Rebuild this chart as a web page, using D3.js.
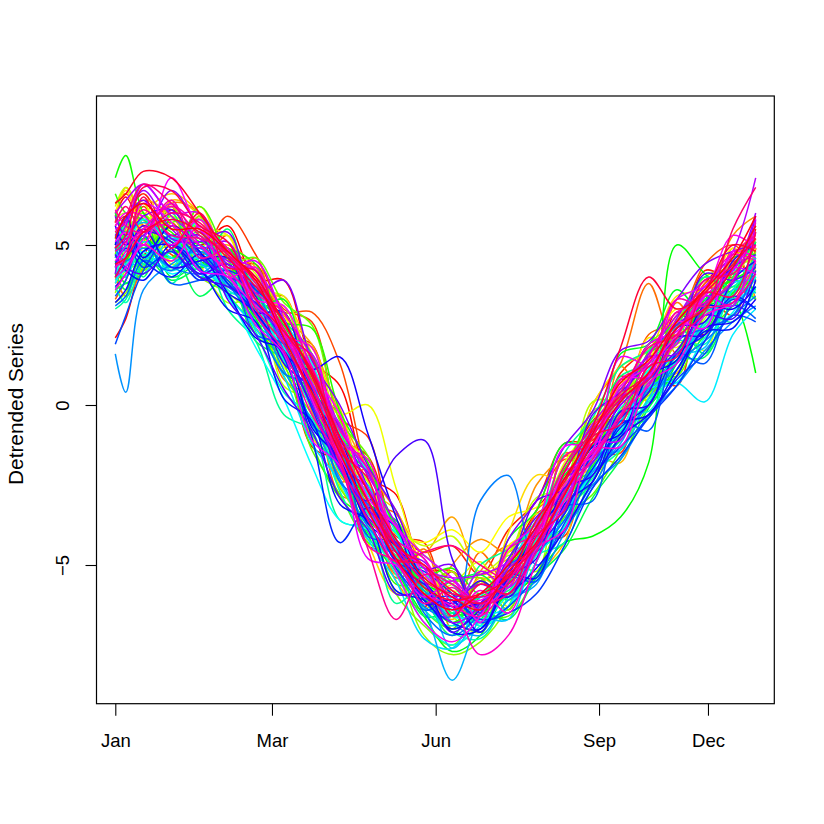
<!DOCTYPE html>
<html>
<head>
<meta charset="utf-8">
<script src="https://cdn.jsdelivr.net/npm/d3@7"></script>
<style>
  body { margin: 0; background: #fff; }
  text { font-family: "Liberation Sans", Arial, Helvetica, sans-serif; }
</style>
</head>
<body>
<div id="c_plot"></div>
<script>
// knot days (0 = 1 Jan) shared by every series
var knotDays = [0, 6, 16, 32, 48, 64, 80, 96, 112, 128, 144, 160, 176, 192, 208, 224, 240, 256, 272, 288, 304, 320, 336, 352, 365];

var tickDays = [0, 89.3, 182.6, 275.7, 337.8];
var tickLabels = ["Jan", "Mar", "Jun", "Sep", "Dec"];
var yTicks = [-5, 0, 5];

// detrended series, one row per station
var series = [
  [2.1, 2.7, 4.6, 6.1, 5.0, 5.6, 3.9, 3.9, 1.4, 0.6, -2.2, -2.8, -5.1, -5.2, -6.5, -4.9, -3.3, -2.1, -0.5, 0.2, 1.9, 2.2, 3.8, 4.5, 3.9],
  [5.9, 6.5, 5.6, 6.2, 4.3, 4.6, 2.4, 1.6, -1.3, -1.8, -4.4, -4.6, -6.3, -5.2, -6.6, -4.6, -4.3, -1.6, -1.9, 0.9, 0.4, 2.9, 2.2, 4.8, 4.4],
  [4.9, 5.8, 6.6, 5.3, 5.8, 4.2, 4.4, 2.2, 1.9, -1.0, -1.6, -3.9, -4.6, -4.4, -5.3, -3.9, -3.0, -1.2, -1.1, 1.0, 1.7, 2.1, 4.2, 4.0, 5.5],
  [3.8, 4.4, 6.2, 4.7, 4.6, 5.9, 4.7, 3.0, 2.6, -0.4, -1.0, -4.1, -4.3, -6.5, -5.5, -6.4, -4.2, -4.1, -1.5, -1.5, 1.2, 0.6, 3.4, 2.8, 4.9],
  [5.6, 5.9, 5.0, 5.6, 5.2, 4.9, 4.2, 2.9, 2.9, 1.3, -2.3, -4.5, -5.6, -5.2, -6.3, -5.5, -3.3, -1.7, -1.9, 0.8, 0.3, 2.4, 3.7, 3.3, 4.9],
  [3.3, 3.9, 5.1, 5.7, 4.4, 5.3, 3.3, 3.4, 0.8, -0.4, -3.1, -3.4, -6.0, -6.6, -5.5, -5.2, -3.4, -3.0, -0.9, -0.2, 2.2, 2.6, 4.4, 5.0, 4.3],
  [6.3, 6.6, 5.6, 4.6, 5.9, 3.6, 3.2, 0.8, 0.2, -2.8, -3.1, -5.4, -5.0, -6.6, -4.6, -5.7, -3.3, -2.6, 0.0, 1.3, 3.8, 1.6, 3.8, 4.1, 5.2],
  [4.0, 3.4, 4.3, 6.3, 6.0, 3.7, 4.6, 1.5, 1.5, -2.4, -2.0, -5.3, -4.5, -7.0, -5.2, -4.4, -4.7, -1.5, -1.9, 1.2, 0.1, 3.2, 2.1, 4.9, 3.3],
  [5.7, 6.8, 5.8, 5.1, 4.8, 4.3, 3.0, 2.0, -0.2, -2.2, -3.1, -5.5, -6.4, -5.0, -4.2, -4.6, -2.5, -1.6, -1.2, 0.4, 0.6, 2.0, 3.1, 5.3, 5.9],
  [4.6, 5.5, 6.4, 5.9, 4.8, 5.0, 4.3, 2.8, 1.9, -0.3, -2.0, -3.3, -4.6, -3.5, -5.3, -4.8, -4.4, -2.3, -1.2, 0.2, 0.6, 2.8, 3.1, 4.3, 3.8],
  [5.2, 5.0, 4.3, 6.4, 5.9, 3.9, 3.9, 2.9, 0.2, -0.6, -3.7, -4.0, -5.7, -6.7, -5.4, -5.9, -5.3, -4.3, -1.6, -1.8, 0.8, 1.0, 3.5, 4.5, 5.6],
  [4.2, 4.5, 5.9, 6.6, 6.0, 4.5, 3.6, 3.3, 1.6, -0.1, -2.6, -3.3, -5.3, -5.9, -6.9, -5.1, -4.3, -2.5, -1.9, 0.7, 0.7, 2.7, 3.3, 3.6, 4.6],
  [3.9, 4.3, 5.7, 4.5, 6.2, 4.2, 2.8, 1.6, -1.0, -1.9, -4.3, -5.9, -5.4, -5.8, -6.4, -4.0, -2.2, -2.3, 0.0, 1.2, 1.7, 3.4, 3.6, 4.4, 5.2],
  [6.0, 6.7, 5.3, 4.3, 5.4, 5.3, 2.8, 2.7, 1.4, -1.8, -2.4, -4.6, -6.1, -5.5, -6.3, -4.4, -3.9, -2.9, -0.4, -0.3, 2.1, 1.8, 3.0, 4.9, 4.2],
  [5.3, 5.0, 4.8, 4.5, 5.0, 3.9, 3.6, 1.2, 0.3, -1.6, -3.6, -4.0, -4.3, -3.9, -4.6, -3.5, -3.2, -2.4, -0.7, 0.5, 1.4, 3.0, 2.4, 4.0, 4.9],
  [5.0, 5.6, 5.1, 5.9, 5.3, 4.9, 2.8, 2.2, 1.0, -0.3, 0.0, -2.6, -5.1, -5.8, -5.6, -4.6, -3.7, -1.8, -0.6, 0.6, 1.5, 2.1, 3.6, 4.1, 5.1],
  [4.4, 4.9, 6.3, 4.4, 4.9, 5.3, 3.6, 3.4, 0.9, -0.9, -1.8, -4.5, -5.8, -5.6, -4.9, -6.3, -4.4, -2.8, -2.3, -0.9, 0.4, 2.6, 1.7, 4.1, 3.3],
  [6.2, 6.8, 6.0, 5.5, 5.6, 4.8, 4.1, 2.4, 1.8, -0.8, -2.4, -3.7, -4.4, -4.1, -5.2, -4.6, -3.4, -3.6, -1.0, 0.1, 0.2, 1.6, 2.7, 3.9, 5.0],
  [5.8, 6.0, 4.9, 5.9, 4.4, 3.2, 3.3, 0.6, 0.1, -2.5, -3.9, -5.0, -5.4, -6.6, -7.1, -4.9, -2.9, -2.6, 0.1, 0.2, 1.6, 2.5, 4.0, 4.3, 4.6],
  [3.5, 4.2, 4.5, 6.2, 4.4, 4.8, 3.1, 3.1, 0.2, -0.8, -3.6, -3.6, -5.7, -5.2, -6.8, -4.7, -5.2, -2.0, -2.5, -0.2, 0.3, 1.9, 2.1, 4.3, 5.4],
  [3.2, 3.5, 4.3, 5.0, 4.0, 3.5, 2.7, 1.0, 0.2, -2.1, -3.3, -4.9, -7.2, -7.8, -7.4, -6.3, -4.2, -3.1, -1.6, 0.3, 1.0, 1.4, 2.5, 3.4, 4.2],
  [4.9, 5.4, 6.0, 4.2, 5.9, 3.9, 3.5, 0.9, -0.3, -2.6, -3.7, -5.9, -6.9, -7.5, -6.3, -5.6, -3.9, -2.5, -0.2, 0.2, 1.9, 2.6, 4.0, 3.5, 4.8],
  [5.4, 5.2, 4.2, 5.7, 5.5, 4.4, 4.6, 3.2, 2.5, -0.5, -1.6, -4.6, -4.7, -5.5, -5.4, -6.4, -4.3, -3.9, -1.8, -0.9, 1.1, 0.9, 2.8, 3.5, 4.0],
  [4.7, 5.6, 4.9, 5.6, 4.0, 3.8, 2.4, 1.3, -1.4, -2.8, -4.3, -4.7, -6.4, -7.0, -6.6, -6.6, -5.3, -3.5, -2.8, -1.4, 0.0, 1.7, 2.3, 3.1, 4.4],
  [4.2, 4.0, 5.1, 4.6, 6.2, 4.6, 2.9, 2.9, 0.4, -0.8, -3.4, -4.0, -6.0, -7.0, -5.5, -6.1, -4.9, -2.6, -2.0, 0.5, 0.4, 2.4, 2.9, 4.4, 5.0],
  [6.6, 6.0, 5.8, 5.4, 4.3, 4.6, 2.2, 1.5, -1.2, -2.9, -3.6, -5.6, -5.6, -6.5, -6.4, -4.9, -4.2, -2.1, -0.5, -0.4, 1.7, 2.6, 3.3, 3.9, 3.6],
  [5.1, 4.6, 4.5, 5.8, 5.1, 4.9, 4.4, 2.6, 2.4, -0.2, -1.8, -3.9, -5.3, -5.1, -5.9, -5.0, -4.2, -2.0, -1.0, -0.4, 1.6, 2.1, 3.1, 4.6, 4.7],
  [7.1, 7.8, 6.0, 5.1, 4.8, 4.4, 3.4, 2.5, 0.7, -1.6, -3.0, -4.2, -5.9, -6.8, -6.0, -5.6, -4.4, -2.7, -1.3, -0.5, 0.5, 1.6, 3.3, 3.9, 4.3],
  [4.0, 4.5, 5.2, 4.6, 5.1, 4.9, 3.6, 1.9, 0.6, -1.5, -2.8, -4.3, -5.6, -5.9, -6.2, -6.0, -5.3, -4.3, -4.1, -3.5, -1.8, 5.0, 4.1, 3.4, 1.0],
  [4.6, 5.0, 5.8, 4.9, 4.5, 3.9, 2.7, 1.0, 0.5, -1.5, -4.1, -5.2, -6.6, -7.7, -7.2, -5.6, -3.8, -2.2, -1.3, -0.2, 0.0, 1.3, 3.0, 3.5, 5.1],
  [4.5, 3.8, 4.4, 5.6, 4.0, 4.1, 2.5, 2.5, -0.1, -1.4, -3.6, -4.2, -5.7, -6.3, -6.7, -4.2, -3.3, -1.2, -1.3, 1.6, 1.9, 3.6, 2.8, 4.2, 5.6],
  [6.0, 5.4, 5.8, 4.0, 4.5, 4.9, 3.0, 3.3, 0.5, -0.6, -3.3, -3.6, -5.9, -5.5, -5.3, -5.9, -4.6, -3.9, -1.9, -1.1, 0.4, 0.9, 3.2, 4.1, 3.5],
  [4.1, 3.6, 4.7, 3.9, 4.3, 4.6, 3.5, 2.0, 0.9, -1.2, -2.1, -3.8, -5.8, -6.6, -6.4, -6.7, -5.4, -4.5, -2.9, -1.7, -0.1, 1.1, 2.2, 3.7, 3.3],
  [3.6, 3.8, 4.1, 4.8, 3.4, 4.0, 2.0, 1.4, -0.9, -2.0, -4.0, -5.0, -6.6, -6.5, -6.8, -5.7, -5.3, -3.4, -2.4, -0.8, -0.4, 1.4, 1.5, 3.4, 4.6],
  [4.8, 5.3, 4.0, 6.0, 4.3, 5.5, 3.1, 2.6, 1.6, -1.0, -3.0, -4.5, -6.0, -7.2, -5.9, -5.8, -4.3, -3.8, -0.7, -0.9, 1.1, 2.5, 1.6, 4.0, 5.1],
  [5.2, 5.8, 4.4, 4.8, 5.4, 3.5, 2.5, 1.8, -0.6, -1.8, -3.2, -5.0, -5.1, -5.6, -6.2, -4.8, -3.6, -1.9, -0.6, 0.9, 1.3, 2.4, 3.3, 3.1, 4.0],
  [3.0, 3.3, 4.6, 5.2, 5.0, 3.0, 2.0, -0.3, -0.8, -3.6, -3.9, -6.2, -5.6, -6.5, -5.0, -4.5, -3.7, -1.5, -0.4, 1.2, 1.7, 2.5, 4.0, 3.7, 4.7],
  [4.3, 4.0, 5.3, 3.8, 5.0, 3.5, 3.6, 1.4, 0.7, -2.1, -2.7, -4.9, -6.1, -7.1, -7.3, -6.0, -4.7, -4.3, -2.2, -1.4, 0.2, 0.9, 2.8, 2.6, 3.7],
  [3.7, 3.2, 4.4, 4.6, 4.2, 4.0, 2.3, 0.4, -0.4, -2.7, -4.2, -4.7, -6.4, -6.9, -6.2, -5.5, -4.6, -2.9, -2.3, -0.1, 0.5, 2.0, 1.9, 3.6, 4.4],
  [5.0, 5.6, 4.7, 4.3, 5.8, 4.3, 3.0, 2.2, 0.3, -0.9, -3.4, -4.0, -5.3, -5.6, -6.9, -6.3, -4.2, -3.3, -2.1, -0.2, -0.2, 1.6, 2.5, 4.2, 4.0],
  [4.3, 4.0, 5.0, 4.2, 4.6, 3.6, 3.1, 1.4, -0.1, -2.4, -3.8, -5.3, -6.8, -7.5, -6.9, -5.9, -4.6, -3.4, -2.0, -0.8, 0.1, 1.4, 2.6, 3.2, 4.1],
  [4.6, 4.9, 5.8, 5.0, 4.7, 4.4, 3.8, 2.6, 1.3, -0.8, -2.1, -4.0, -5.3, -6.1, -6.9, -6.3, -4.7, -3.8, -2.0, -1.0, 0.5, 0.7, 2.1, 2.9, 4.0],
  [3.8, 4.4, 4.8, 4.1, 4.4, 3.4, 1.8, 0.2, -1.9, -3.6, -3.9, -4.8, -6.0, -6.4, -7.1, -5.3, -3.9, -2.8, -0.8, -0.7, 1.1, 1.6, 2.8, 3.3, 3.6],
  [4.1, 4.7, 5.1, 4.6, 4.1, 3.8, 2.9, 1.8, 0.5, -1.4, -2.8, -4.2, -5.6, -6.6, -6.6, -6.3, -4.9, -3.2, -2.0, -0.6, 0.6, 0.7, 0.1, 2.2, 3.0],
  [3.9, 4.2, 4.1, 5.2, 4.5, 3.4, 2.4, 0.9, -1.2, -2.4, -4.2, -5.5, -7.3, -7.6, -6.0, -5.0, -3.6, -2.3, -1.8, 0.1, 0.8, 1.6, 2.4, 3.8, 3.9],
  [4.9, 4.4, 4.5, 5.3, 4.0, 4.6, 2.8, 1.6, 0.7, -1.8, -2.5, -4.5, -5.5, -7.6, -6.7, -6.7, -4.5, -3.6, -1.6, -1.4, 0.2, 1.5, 1.8, 3.6, 3.5],
  [4.6, 5.3, 5.7, 5.2, 4.4, 4.2, 3.3, 2.3, 0.6, -1.6, -3.2, -4.9, -6.3, -8.6, -6.6, -5.5, -4.5, -2.9, -1.6, -0.5, 0.7, 1.3, 2.6, 3.4, 4.6],
  [5.3, 4.8, 5.0, 4.3, 4.9, 3.7, 3.2, 1.9, 0.0, -1.3, -3.8, -4.6, -5.5, -6.8, -7.2, -6.1, -5.6, -3.3, -2.1, -1.2, 0.5, 1.1, 2.9, 3.2, 3.7],
  [1.6, 0.4, 3.6, 4.4, 4.8, 4.0, 2.9, 1.1, -0.5, -2.3, -3.8, -4.8, -5.8, -6.3, -6.0, -6.0, -5.5, -4.0, -2.5, -1.7, -0.3, 0.6, 1.7, 2.6, 3.1],
  [4.9, 4.5, 4.9, 4.3, 4.1, 4.6, 3.6, 1.7, 0.0, -1.9, -3.6, -5.1, -6.3, -6.6, -3.0, -2.2, -5.0, -3.9, -2.6, -1.0, 0.0, 1.3, 2.0, 2.8, 3.4],
  [3.1, 3.4, 4.5, 4.2, 5.0, 3.8, 2.6, 1.0, 0.6, -2.4, -3.1, -4.4, -6.5, -7.2, -6.5, -5.0, -4.6, -3.6, -1.8, -0.9, 0.6, 2.0, 2.4, 2.8, 4.4],
  [3.4, 3.9, 5.3, 3.8, 3.9, 4.2, 2.2, 1.9, -0.6, -1.3, -4.1, -4.3, -6.4, -6.1, -7.1, -5.4, -5.5, -3.2, -3.0, -0.5, -0.8, 1.6, 1.3, 3.1, 2.7],
  [1.9, 2.8, 4.2, 5.3, 4.6, 3.9, 2.8, 1.6, 0.0, -2.0, -3.6, -5.1, -6.0, -6.0, -6.8, -6.3, -5.3, -3.7, -2.2, -1.3, -0.4, 0.8, 1.6, 2.8, 2.6],
  [4.3, 5.1, 4.3, 4.8, 3.9, 4.2, 3.6, 2.7, 0.5, -0.7, -2.6, -4.9, -5.2, -5.9, -6.7, -6.5, -5.9, -4.4, -2.6, -1.6, -0.4, 0.6, 2.0, 3.3, 3.0],
  [4.4, 4.9, 4.5, 4.0, 4.7, 3.8, 2.9, 1.5, -1.0, -4.3, -3.2, -4.4, -6.1, -6.8, -7.0, -5.4, -4.4, -3.2, -2.0, -0.7, 0.0, 1.6, 2.2, 3.4, 3.0],
  [4.7, 4.2, 3.9, 5.0, 4.3, 3.0, 2.6, 0.2, -0.5, -3.1, -3.6, -5.8, -6.1, -7.0, -6.4, -5.3, -5.4, -3.1, -2.4, -0.6, -0.3, 1.1, 2.3, 2.4, 3.9],
  [5.0, 5.9, 4.6, 5.6, 4.8, 3.5, 2.1, 1.7, -0.7, -1.7, -3.7, -4.4, -5.5, -7.1, -7.0, -5.5, -4.0, -2.8, -1.3, -0.9, 0.9, 1.4, 3.1, 3.0, 3.7],
  [3.2, 3.6, 4.8, 5.0, 4.2, 3.5, 2.9, 1.6, 1.1, 1.5, -0.9, -3.5, -5.5, -6.3, -6.2, -5.9, -5.1, -3.9, -2.4, -1.0, -0.3, 0.9, 2.4, 2.6, 3.3],
  [5.6, 5.0, 5.5, 4.3, 4.5, 4.6, 2.9, 2.9, 0.2, -1.0, -3.3, -3.8, -6.2, -6.1, -7.1, -5.4, -4.8, -2.6, -2.2, -0.2, 0.0, 2.1, 2.2, 3.9, 4.5],
  [3.7, 4.1, 5.4, 5.1, 4.1, 4.4, 3.4, 1.3, 0.5, -1.9, -2.6, -4.9, -5.6, -6.2, -5.5, -6.0, -4.5, -3.4, -1.5, -0.4, 0.4, 2.4, 2.6, 4.5, 5.0],
  [4.0, 4.6, 5.6, 4.9, 4.0, 3.7, 3.2, 2.0, -0.1, -2.0, -3.0, -1.6, -1.1, -4.8, -6.4, -5.3, -3.8, -2.7, -1.4, 0.0, 0.8, 1.7, 2.8, 2.7, 4.2],
  [4.7, 4.3, 4.1, 4.9, 5.3, 3.3, 2.2, 0.5, -0.8, -2.9, -3.9, -5.9, -5.9, -7.1, -6.2, -5.1, -3.0, -2.6, -0.3, 0.4, 1.3, 2.1, 4.1, 3.9, 4.3],
  [5.9, 5.3, 5.9, 6.1, 4.7, 4.0, 3.7, 2.1, 1.0, -1.1, -3.5, -4.3, -6.0, -6.3, -6.2, -4.8, -3.5, -2.7, -0.8, 0.2, 1.6, 2.5, 3.2, 4.3, 4.7],
  [5.3, 5.8, 6.4, 5.2, 5.1, 5.4, 3.5, 3.9, 1.4, 0.0, -1.9, -3.3, -5.1, -5.0, -6.5, -4.2, -3.0, -1.3, -0.2, 1.7, 2.0, 3.3, 4.4, 4.8, 5.0],
  [4.1, 5.2, 5.3, 6.7, 5.5, 4.4, 4.0, 2.2, 1.2, -1.5, -2.1, -4.6, -4.9, -6.0, -5.6, -5.9, -4.3, -2.3, -1.8, 0.2, 1.5, 1.6, 3.1, 3.8, 5.9],
  [4.9, 5.6, 6.7, 5.5, 4.9, 5.1, 3.1, 2.2, 0.1, -2.0, -3.2, -4.6, -5.5, -6.8, -6.3, -5.1, -4.4, -2.8, -0.9, 0.0, 0.9, 2.7, 3.9, 4.2, 6.0],
  [6.0, 6.4, 6.9, 5.9, 5.2, 4.5, 4.2, 2.9, 1.5, -0.7, -2.2, -3.7, -5.1, -5.4, -5.3, -4.9, -3.8, -2.1, -0.6, 0.5, 1.6, 2.8, 3.7, 4.8, 7.1],
  [5.5, 5.7, 6.9, 6.0, 6.0, 4.7, 4.2, 2.0, 1.6, -1.0, -2.0, -4.4, -5.1, -6.4, -5.2, -5.7, -4.3, -3.2, -1.2, -1.1, 1.3, 1.9, 3.4, 3.1, 5.8],
  [4.0, 4.3, 5.2, 6.3, 5.0, 4.3, 4.5, 2.7, 0.7, -0.6, -2.6, -3.8, -4.7, -5.4, -6.2, -5.7, -3.9, -3.0, -0.9, 0.1, 1.9, 2.3, 3.4, 4.2, 5.4],
  [4.5, 5.0, 6.3, 5.7, 4.2, 4.0, 2.5, 1.6, -1.1, -1.9, -4.8, -5.0, -6.0, -5.5, -6.8, -4.5, -3.7, -1.3, -1.2, 1.5, 1.3, 3.3, 3.7, 4.3, 4.1],
  [5.1, 5.4, 5.0, 7.1, 5.5, 4.9, 3.3, 3.1, 1.1, -0.3, -2.9, -3.8, -5.3, -6.0, -6.1, -5.3, -4.3, -2.1, -1.6, 0.8, 0.9, 2.6, 2.4, 4.8, 4.6],
  [5.6, 6.0, 5.9, 5.0, 5.8, 4.1, 3.1, 2.4, 0.2, -1.6, -3.3, -5.2, -6.8, -7.4, -6.6, -4.9, -4.0, -2.5, -1.4, 0.6, 1.2, 2.2, 3.4, 5.3, 4.9],
  [3.6, 4.1, 5.0, 4.5, 5.6, 4.0, 4.3, 2.2, 1.8, -1.2, -1.7, -4.2, -4.8, -6.6, -5.8, -6.5, -4.5, -3.9, -1.4, -1.3, 0.7, 1.3, 2.8, 3.2, 4.5],
  [4.3, 4.8, 5.5, 5.6, 5.0, 4.2, 3.3, 2.2, 0.6, -1.2, -3.0, -4.8, -5.9, -6.3, -7.8, -7.2, -4.9, -3.0, -1.7, -0.3, 0.6, 2.1, 3.6, 4.7, 4.5],
  [4.3, 4.6, 5.5, 6.2, 5.6, 4.9, 3.5, 2.9, 1.2, -0.8, -2.0, -4.2, -4.8, -6.2, -6.6, -5.5, -4.1, -2.3, -1.5, -0.3, 1.5, 2.9, 3.2, 3.9, 5.7],
  [6.1, 5.6, 5.4, 6.4, 4.6, 4.8, 2.8, 1.7, -0.3, -1.7, -4.4, -4.9, -6.2, -5.7, -6.4, -4.5, -4.0, -1.6, -1.2, 0.8, 1.3, 3.3, 3.1, 4.7, 5.3],
  [4.8, 5.1, 6.1, 5.3, 5.2, 4.8, 3.8, 2.4, 0.6, -1.8, -4.5, -6.7, -5.3, -5.6, -6.2, -5.9, -4.6, -2.7, -1.7, -0.4, 1.0, 2.4, 3.0, 3.2, 4.1],
  [5.4, 5.9, 6.9, 6.3, 5.3, 4.7, 3.0, 1.9, 0.3, -1.8, -3.6, -4.9, -4.6, -4.4, -5.0, -5.4, -3.9, -1.9, -0.7, 0.4, 1.8, 2.2, 3.9, 4.1, 5.0],
  [5.7, 6.2, 5.4, 6.0, 5.7, 4.7, 3.9, 2.6, 1.0, -1.0, -2.7, -4.4, -5.5, -5.9, -6.0, -5.6, -4.3, -2.8, -1.0, 0.2, 0.8, 2.1, 2.9, 5.5, 6.8],
  [4.0, 4.6, 6.5, 4.9, 6.0, 4.3, 4.2, 2.3, 1.5, -1.4, -2.3, -4.8, -5.0, -6.6, -5.6, -5.9, -4.1, -3.3, -1.0, -0.6, 1.2, 1.5, 3.5, 3.4, 5.4],
  [4.9, 5.3, 6.8, 6.7, 5.6, 5.1, 3.3, 2.3, 1.1, -1.2, -3.0, -4.4, -5.0, -5.8, -6.2, -5.3, -4.4, -2.1, -0.8, 0.3, 1.0, 2.6, 3.5, 4.4, 5.2],
  [4.4, 4.6, 5.4, 5.8, 5.4, 4.6, 3.7, 2.6, 0.9, -1.3, -3.0, -4.6, -5.7, -6.1, -5.9, -5.4, -3.6, -2.4, -0.7, 1.8, 4.0, 3.0, 3.6, 5.0, 4.8],
  [6.3, 6.6, 7.3, 7.1, 6.0, 4.8, 4.0, 2.6, 1.0, -1.0, -2.7, -4.2, -5.4, -6.0, -6.4, -5.2, -4.3, -2.8, -1.2, 0.1, 1.0, 2.4, 3.0, 4.3, 5.6],
  [5.2, 5.9, 6.3, 5.5, 5.5, 4.8, 3.9, 2.1, 0.4, -1.5, -3.3, -4.8, -5.9, -6.4, -5.9, -5.0, -3.8, -2.3, -0.9, 0.7, 1.4, 2.6, 3.6, 4.6, 5.9]
];

var W = 824, H = 824;
var box = {left: 96.5, top: 96, right: 774.3, bottom: 703.7};

var svg = d3.select("#c_plot")
  .append("svg")
  .attr("width", W)
  .attr("height", H);

var x = d3.scaleLinear().domain([0, 365]).range([115.3, 755.7]);
var y = d3.scaleLinear().domain([-9.334, 9.656]).range([box.bottom, box.top]);

// rainbow(n) like colours, drawn in order so the last ones sit on top
var n = series.length;
var line = d3.line()
  .x((d, i) => x(knotDays[i]))
  .y(d => y(d))
  .curve(d3.curveCatmullRom.alpha(0.5));

var g = svg.append("g");
for (var i = 0; i < n; i++) {
  g.append("path")
    .attr("d", line(series[i]))
    .attr("fill", "none")
    .attr("stroke", d3.hsl(360 * i / n, 1, 0.5).formatHex())
    .attr("stroke-width", 1.5);
}

// box
svg.append("rect")
  .attr("x", box.left)
  .attr("y", box.top)
  .attr("width", box.right - box.left)
  .attr("height", box.bottom - box.top)
  .attr("fill", "none")
  .attr("stroke", "#000")
  .attr("stroke-width", 1.2);

// y axis, labels parallel to the axis like R
var ya = svg.append("g")
  .attr("transform", "translate(" + box.left + ",0)")
  .call(d3.axisLeft(y).tickValues(yTicks).tickSize(11).tickFormat(d => d < 0 ? "\u2212" + (-d) : String(d)));
ya.select(".domain").remove();
ya.selectAll("line").attr("stroke", "#000").attr("stroke-width", 1.1);
ya.selectAll("text")
  .attr("x", null).attr("dy", null)
  .attr("transform", "translate(-28,0) rotate(-90)")
  .attr("text-anchor", "middle")
  .attr("font-size", 18.5)
  .attr("fill", "#000")
  .style("font-family", "'Liberation Sans', Arial, sans-serif");

// x axis
var xa = svg.append("g")
  .attr("transform", "translate(0," + box.bottom + ")")
  .call(d3.axisBottom(x).tickValues(tickDays).tickSize(12).tickFormat((d, i) => tickLabels[i]));
xa.select(".domain").remove();
xa.selectAll("line").attr("stroke", "#000").attr("stroke-width", 1.1);
xa.selectAll("text")
  .attr("y", 43).attr("dy", null)
  .attr("font-size", 18.5)
  .attr("fill", "#000")
  .style("font-family", "'Liberation Sans', Arial, sans-serif");

svg.append("text")
  .attr("transform", "translate(22.5,404) rotate(-90)")
  .attr("text-anchor", "middle")
  .attr("font-size", 20.8)
  .text("Detrended Series");
</script>
</body>
</html>
